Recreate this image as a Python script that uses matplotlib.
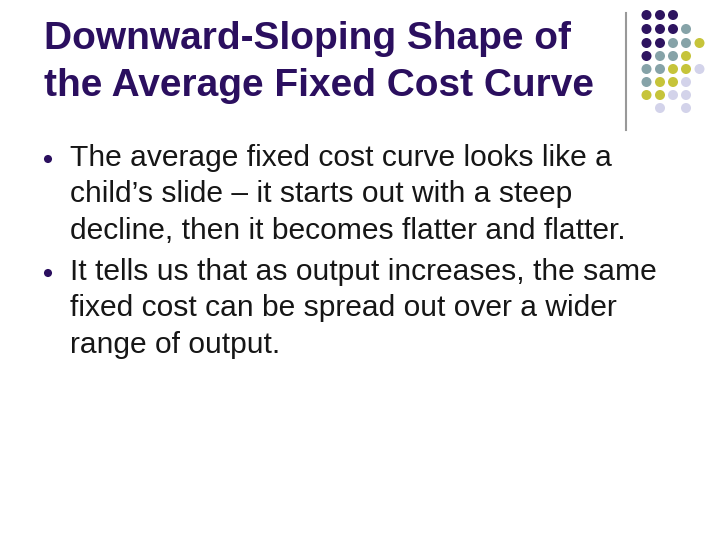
import matplotlib.pyplot as plt

# slide text
title_lines = ["Downward-Sloping Shape of", "the Average Fixed Cost Curve"]
bullets = [
    ["The average fixed cost curve looks like a",
     "child\u2019s slide \u2013 it starts out with a steep",
     "decline, then it becomes flatter and flatter."],
    ["It tells us that as output increases, the same",
     "fixed cost can be spread out over a wider",
     "range of output."],
]

# decorative dot grid (rows top to bottom), P=purple T=teal Y=yellow L=lavender
dot_rows = ["PPP..", "PPPT.", "PPTTY", "PTTY.", "TTYYL", "TYYL.", "YYLL.", ".L.L."]
dot_colors = {"P": "#2e1460", "T": "#86a3a8", "Y": "#c6c43a", "L": "#d3d3ea"}

purple = "#2b0f5f"

fig = plt.figure(figsize=(7.2, 5.39), dpi=100)
ax = fig.add_axes([0, 0, 1, 1])
ax.set_xlim(0, 720)
ax.set_ylim(539, 0)
ax.axis("off")

# title
for i, line in enumerate(title_lines):
    ax.text(44, 39 + i * 47, line, fontsize=28, fontweight="bold",
            family="Liberation Sans", color=purple, va="center", ha="left")

# vertical rule
ax.plot([626, 626], [13, 130], color="#999999", lw=1.5)

# dots
col_x = [646.5, 660, 673, 686, 699.5]
row_y = [15, 29, 43, 56, 69, 82, 95, 108]
for r, row in enumerate(dot_rows):
    for c, ch in enumerate(row):
        if ch != ".":
            ax.scatter(col_x[c], row_y[r], s=52, color=dot_colors[ch], edgecolors="none")

# bullets
y0 = [158, 272]
for b, lines in enumerate(bullets):
    ax.scatter(48, y0[b] + 1, s=34, color=purple, edgecolors="none")
    for j, line in enumerate(lines):
        ax.text(70, y0[b] + j * 36.5, line, fontsize=21.6, family="Liberation Sans",
                color="#161616", va="center", ha="left")

fig.savefig("out.png", dpi=100)
